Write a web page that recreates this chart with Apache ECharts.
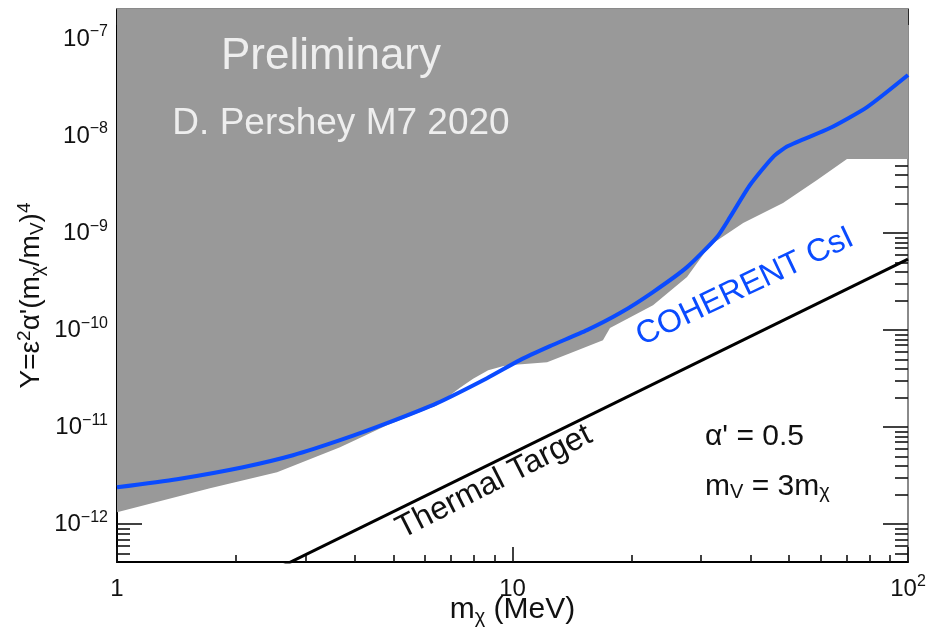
<!DOCTYPE html>
<html><head><meta charset="utf-8">
<script src="https://cdn.jsdelivr.net/npm/echarts@6/dist/echarts.min.js"></script>
<style>html,body{margin:0;padding:0;background:#fff}#c{width:933px;height:637px}</style>
</head><body><div id="c"></div>
<script>
// ---- data ----
const xMajorTicks = [1, 10, 100];
const xTickLabels = ['1', '10', '10{sup|2}'];
const yMajorTicks = [1e-12, 1e-11, 1e-10, 1e-9, 1e-8, 1e-7];
const yTickLabels = ['10{sup|−12}', '10{sup|−11}', '10{sup|−10}', '10{sup|−9}', '10{sup|−8}', '10{sup|−7}'];
const xRange = [1, 100];
const yRange = [4.08e-13, 2.04e-7];

// COHERENT CsI limit (blue)
const csiMass = [1, 1.418, 2.083, 2.786, 3.664, 4.816, 6.445, 8.622, 10.44, 12.44, 15.43, 18.70, 22.66, 27.62, 32.89, 35.48, 39.86, 45.57, 49.73, 63.5, 78.8, 100];
const csiY    = [2.40e-12, 2.91e-12, 3.87e-12, 5.14e-12, 7.34e-12, 1.10e-11, 1.77e-11, 3.20e-11, 4.91e-11, 6.84e-11, 1.00e-10, 1.50e-10, 2.47e-10, 4.46e-10, 9.10e-10, 1.46e-9, 3.13e-9, 6.08e-9, 7.89e-9, 1.21e-8, 1.99e-8, 4.26e-8];

// excluded region lower boundary (gray)
const grayMass = [1, 1.718, 2.539, 3.664, 4.816, 6.445, 6.75, 7.366, 7.95, 8.68, 9.50, 10.15, 12.23, 13.98, 16.93, 17.64, 22.66, 27.62, 31.58, 38.3, 48.3, 58.9, 70.1, 100];
const grayY    = [1.33e-12, 2.35e-12, 3.44e-12, 6.22e-12, 1.05e-11, 1.68e-11, 1.95e-11, 2.55e-11, 3.16e-11, 3.87e-11, 4.26e-11, 4.40e-11, 4.68e-11, 5.79e-11, 7.88e-11, 1.05e-10, 1.81e-10, 3.52e-10, 7.52e-10, 1.27e-9, 2.04e-9, 3.52e-9, 5.79e-9, 5.79e-9];

// thermal target
const thermalMass = [1, 100];
const thermalY = [5.4e-14, 5.4e-10];

// minor tick positions (2..9 per decade)
const xMinorTicks = [];
for (const d of [1, 10]) for (let k = 2; k <= 9; k++) xMinorTicks.push(k * d);
const yMinorTicks = [];
for (let e = -13; e <= -7; e++) for (let k = 2; k <= 9; k++) { const v = k * Math.pow(10, e); if (v > yRange[0] && v < yRange[1]) yMinorTicks.push(v); }

const FONT = "'Liberation Sans', Arial, Helvetica, sans-serif";
const zip = (a, b) => a.map((v, i) => [v, b[i]]);
const nearestIdx = (arr, v) => { let bi = 0, bd = Infinity; arr.forEach((t, i) => { const d = Math.abs(Math.log10(t) - Math.log10(v)); if (d < bd) { bd = d; bi = i; } }); return bi; };

const supRich = { sup: { fontSize: 16, fontFamily: FONT, color: '#111', verticalAlign: 'top', lineHeight: 14 } };

function axisBase(extra) {
  return Object.assign({
    type: 'log', logBase: 10, gridIndex: 0,
    splitLine: { show: false }, minorTick: { show: false }, minorSplitLine: { show: false }
  }, extra);
}
const TICK = { color: '#111', width: 1.6 };

const xAxes = [
  axisBase({ position: 'bottom', min: xRange[0], max: xRange[1],
    axisLine: { show: true, lineStyle: { color: '#000', width: 2 } },
    axisTick: { show: true, inside: true, length: 15, customValues: xMajorTicks, lineStyle: TICK },
    axisLabel: { show: true, customValues: xMajorTicks, margin: 12, fontSize: 24, fontFamily: FONT, color: '#111', lineHeight: 30,
      formatter: v => xTickLabels[nearestIdx(xMajorTicks, v)], rich: supRich },
    name: 'm{sub|χ} (MeV)', nameLocation: 'middle', nameGap: 31, nameMoveOverlap: false,
    nameTextStyle: { fontSize: 30, fontFamily: FONT, color: '#111', lineHeight: 34,
      rich: { sub: { fontSize: 20, fontFamily: FONT, color: '#111', verticalAlign: 'bottom', lineHeight: 18 } } }
  }),
  axisBase({ position: 'bottom', min: xRange[0], max: xRange[1],
    axisLine: { show: false },
    axisTick: { show: true, inside: true, length: 7, customValues: xMinorTicks, lineStyle: TICK },
    axisLabel: { show: false } }),
  axisBase({ position: 'top', min: xRange[0], max: xRange[1],
    axisLine: { show: true, lineStyle: { color: '#8a8a8a', width: 2 } },
    axisTick: { show: true, inside: true, length: 16, customValues: xMajorTicks, lineStyle: TICK },
    axisLabel: { show: false } }),
  axisBase({ position: 'top', min: xRange[0], max: xRange[1],
    axisLine: { show: false },
    axisTick: { show: true, inside: true, length: 8, customValues: xMinorTicks, lineStyle: TICK },
    axisLabel: { show: false } })
];

const yAxes = [
  axisBase({ position: 'left', min: yRange[0], max: yRange[1],
    axisLine: { show: true, lineStyle: { color: '#000', width: 2 } },
    axisTick: { show: true, inside: true, length: 25, customValues: yMajorTicks, lineStyle: TICK },
    axisLabel: { show: true, customValues: yMajorTicks, margin: 9, fontSize: 24, fontFamily: FONT, color: '#111', lineHeight: 30,
      formatter: v => yTickLabels[nearestIdx(yMajorTicks, v)], rich: supRich },
    name: "Y=ε{sup|2}α'(m{sub|χ}/m{sub|V}){sup|4}", nameLocation: 'middle', nameGap: 70, nameRotate: 90, nameMoveOverlap: false,
    nameTextStyle: { fontSize: 28, fontFamily: FONT, color: '#111', lineHeight: 32, padding: [0, 20, 0, 0],
      rich: { sup: { fontSize: 19, fontFamily: FONT, color: '#111', verticalAlign: 'top', lineHeight: 16 },
              sub: { fontSize: 19, fontFamily: FONT, color: '#111', verticalAlign: 'bottom', lineHeight: 18 } } }
  }),
  axisBase({ position: 'left', min: yRange[0], max: yRange[1],
    axisLine: { show: false },
    axisTick: { show: true, inside: true, length: 13, customValues: yMinorTicks, lineStyle: TICK },
    axisLabel: { show: false } }),
  axisBase({ position: 'right', min: yRange[0], max: yRange[1],
    axisLine: { show: true, lineStyle: { color: '#8a8a8a', width: 2 } },
    axisTick: { show: true, inside: true, length: 25, customValues: yMajorTicks, lineStyle: TICK },
    axisLabel: { show: false } }),
  axisBase({ position: 'right', min: yRange[0], max: yRange[1],
    axisLine: { show: false },
    axisTick: { show: true, inside: true, length: 13, customValues: yMinorTicks, lineStyle: TICK },
    axisLabel: { show: false } })
];

const chart = echarts.init(document.getElementById('c'), null, { renderer: 'canvas' });
chart.setOption({
  animation: false,
  backgroundColor: '#fff',
  grid: { left: 117, right: 25, top: 9, bottom: 75, containLabel: false, outerBoundsMode: 'none' },
  xAxis: xAxes,
  yAxis: yAxes,
  series: [
    { name: 'Excluded', type: 'line', xAxisIndex: 0, yAxisIndex: 0, data: zip(grayMass, grayY),
      symbol: 'none', lineStyle: { width: 0 }, areaStyle: { color: '#999999', opacity: 1, origin: 'end' }, z: 1, silent: true },
    { name: 'Thermal Target', type: 'line', xAxisIndex: 0, yAxisIndex: 0, data: zip(thermalMass, thermalY),
      symbol: 'none', lineStyle: { color: '#000', width: 3 }, clip: true, z: 3 },
    { name: 'COHERENT CsI', type: 'line', xAxisIndex: 0, yAxisIndex: 0, data: zip(csiMass, csiY),
      symbol: 'none', smooth: 0.2, lineStyle: { color: '#0a4bff', width: 4 }, z: 4 }
  ],
  graphic: [
    { type: 'text', x: 331, y: 57, z: 10, style: { text: 'Preliminary', font: `44px ${FONT}`, fill: '#eeeeee', textAlign: 'center', textVerticalAlign: 'middle' } },
    { type: 'text', x: 341, y: 124, z: 10, style: { text: 'D. Pershey M7 2020', font: `37px ${FONT}`, fill: '#eeeeee', textAlign: 'center', textVerticalAlign: 'middle' } },
    { type: 'text', x: 745, y: 287, rotation: 25.5 * Math.PI / 180, z: 10, style: { text: 'COHERENT CsI', font: `32px ${FONT}`, fill: '#0a4bff', textAlign: 'center', textVerticalAlign: 'middle' } },
    { type: 'text', x: 494, y: 482, rotation: 27 * Math.PI / 180, z: 10, style: { text: 'Thermal Target', font: `32px ${FONT}`, fill: '#111', textAlign: 'center', textVerticalAlign: 'middle' } },
    { type: 'text', x: 705, y: 437, z: 10, style: { text: "α' = 0.5", font: `30px ${FONT}`, fill: '#111', textAlign: 'left', textVerticalAlign: 'middle' } },
    { type: 'text', x: 705, y: 487, z: 10, style: { text: 'm{sub|V} = 3m{sub|χ}', font: `30px ${FONT}`, fill: '#111', textAlign: 'left', textVerticalAlign: 'middle',
        rich: { sub: { fontSize: 20, fontFamily: FONT, fill: '#111', verticalAlign: 'bottom', lineHeight: 16 } } } }
  ]
});
</script>
</body></html>
